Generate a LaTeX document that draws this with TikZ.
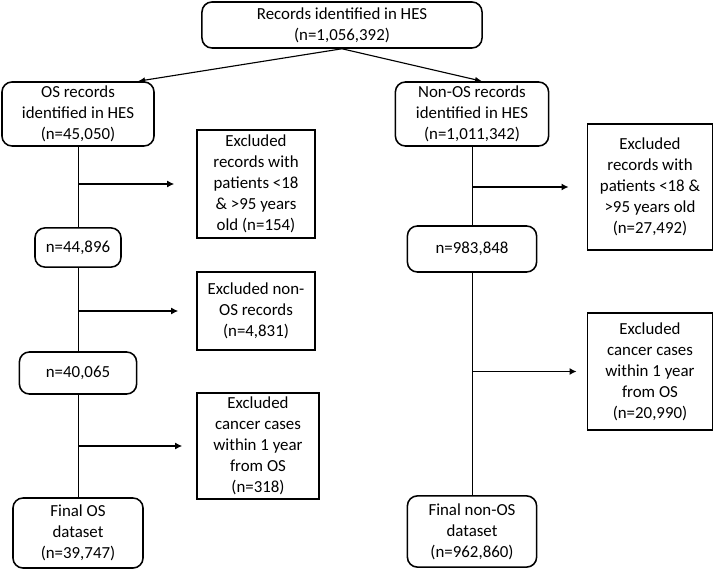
\documentclass[tikz,border=0pt]{standalone}
\usepackage{fontspec}
\setmainfont{Carlito}
\usetikzlibrary{arrows.meta}

\begin{document}
\begin{tikzpicture}[x=0.025cm, y=-0.025cm,
    r/.style={draw,line width=1.1pt,rounded corners=0.25cm,align=center,inner sep=0pt,font=\fontsize{12}{15}\selectfont},
    ex/.style={draw,line width=1.1pt,align=center,inner sep=0pt,font=\fontsize{12}{15}\selectfont},
    ln/.style={line width=0.7pt},
    arr/.style={line width=1.2pt,-{Latex[length=5pt,width=5pt]},shorten >=0.45cm},
    split/.style={line width=0.8pt,-{Latex[length=5pt,width=4pt]}}]
  \useasboundingbox (0,0) rectangle (714,569);
  \node[r,minimum width=7cm,minimum height=1.15cm] (1) at (342,25) {Records identified in HES\\(n=1,056,392)};
  % OS branch
  \node[r,minimum width=3.8cm,minimum height=1.6cm] (2) at (78,114) {OS records\\identified in HES\\(n=45,050)};
  \node[ex,minimum width=2.95cm,minimum height=2.7cm] (4) at (256,184) {Excluded\\records with\\patients <18\\\& >95 years\\old (n=154)};
  \node[r,minimum width=2.15cm,minimum height=0.98cm] (5) at (78,247.5) {n=44,896};
  \node[ex,minimum width=2.95cm,minimum height=1.95cm] (6) at (256,311) {Excluded non-\\OS records\\(n=4,831)};
  \node[r,minimum width=2.93cm,minimum height=1.05cm] (7) at (78,373) {n=40,065};
  \node[ex,minimum width=3.05cm,minimum height=2.65cm] (8) at (258,446) {Excluded\\cancer cases\\within 1 year\\from OS\\(n=318)};
  \node[r,minimum width=3.25cm,minimum height=1.75cm] (9) at (78,533) {Final OS\\dataset\\(n=39,747)};
  % non-OS branch
  \node[r,minimum width=3.83cm,minimum height=1.6cm] (3) at (472,114) {Non-OS records\\identified in HES\\(n=1,011,342)};
  \node[ex,minimum width=3.13cm,minimum height=3.15cm] (10) at (650,187) {Excluded\\records with\\patients <18 \&\\>95 years old\\(n=27,492)};
  \node[r,minimum width=3.23cm,minimum height=1.15cm] (11) at (472,249) {n=983,848};
  \node[ex,minimum width=3.13cm,minimum height=2.93cm] (12) at (650,371.5) {Excluded\\cancer cases\\within 1 year\\from OS\\(n=20,990)};
  \node[r,minimum width=3.23cm,minimum height=1.78cm] (13) at (472,531.5) {Final non-OS\\dataset\\(n=962,860)};
  \draw[split] (1.south) -- ([xshift=1.5cm]2.north);
  \draw[split] (1.south) -- ([xshift=0.25cm]3.north);
  \draw[ln] (2) -- (5);
  \draw[ln] (5) -- (7);
  \draw[ln] (7) -- (9);
  \draw[ln] (3) -- (11);
  \draw[ln] (11) -- (13);
  \draw[arr,shorten >=0.55cm] (2 |- 4) -- (4);
  \draw[arr] (5 |- 6) -- (6);
  \draw[arr,shorten >=0.35cm] (7 |- 8) -- (8);
  \draw[arr] (3 |- 10) -- (10);
  \draw[arr,shorten >=0.25cm] (11 |- 12) -- (12);
\end{tikzpicture}
\end{document}
